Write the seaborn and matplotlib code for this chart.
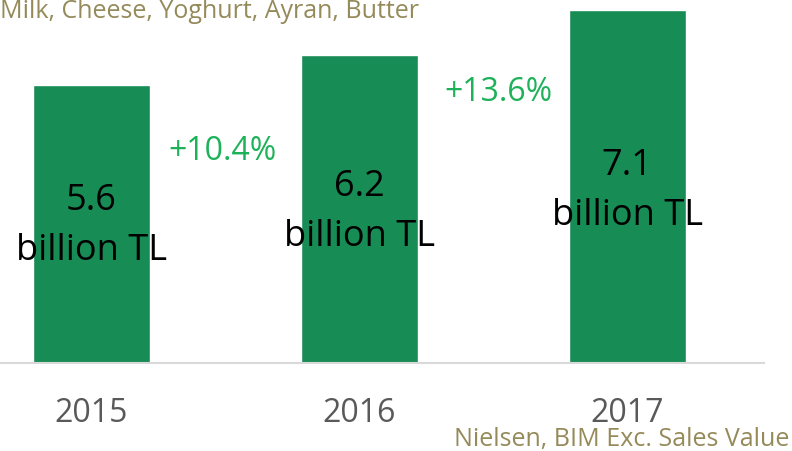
import matplotlib
matplotlib.use('Agg')
import matplotlib.pyplot as plt
import seaborn as sns
import pandas as pd

# ── Data ──────────────────────────────────────────────────────────────────
years   = ["2015", "2016", "2017"]
values  = [5.6, 6.2, 7.1]
labels  = ["5.6\nbillion TL", "6.2\nbillion TL", "7.1\nbillion TL"]
growth  = ["+10.4%", "+13.6%"]

BAR_GREEN  = "#188C55"
TEXT_GREEN = "#1DB25A"
OLIVE      = "#958A5A"

sns.set_theme(style="white")
plt.rcParams['font.family'] = ['Open Sans', 'DejaVu Sans']

df = pd.DataFrame({"year": years, "value": values})

fig = plt.figure(figsize=(7.92, 4.52), dpi=100)
ax = fig.add_axes([0, 88/452, 764/792, 364/452])

sns.barplot(data=df, x="year", y="value", color=BAR_GREEN, width=0.437,
            saturation=1, ax=ax)

ax.set_xlim(-0.341, 2.51)
ax.set_ylim(0, 7.32)
for s in ["top", "right", "left"]:
    ax.spines[s].set_visible(False)
ax.spines["bottom"].set_color("#D9D9D9")
ax.spines["bottom"].set_linewidth(1.5)
ax.set_yticks([])
ax.set_xlabel("")
ax.set_ylabel("")
ax.tick_params(axis="x", length=0, pad=24, labelsize=23, labelcolor="#595959")

# value labels inside bars
label_y = [2.78, 3.06, 3.48]
for i, (txt, y) in enumerate(zip(labels, label_y)):
    ax.text(i, y, txt, ha="center", va="center", fontsize=26,
            color="black", linespacing=1.5)

# growth annotations between bars
ax.text(0.49, 4.27, growth[0], ha="center", va="center", fontsize=23, color=TEXT_GREEN)
ax.text(1.52, 5.45, growth[1], ha="center", va="center", fontsize=23, color=TEXT_GREEN)

fig.text(0.0, 0.974, "Milk, Cheese, Yoghurt, Ayran, Butter", ha="left", va="center",
         fontsize=18, color=OLIVE)
fig.text(0.997, 0.027, "Nielsen, BIM Exc. Sales Value", ha="right", va="center",
         fontsize=18, color=OLIVE)

plt.savefig("out.png", dpi=100)
plt.close()
